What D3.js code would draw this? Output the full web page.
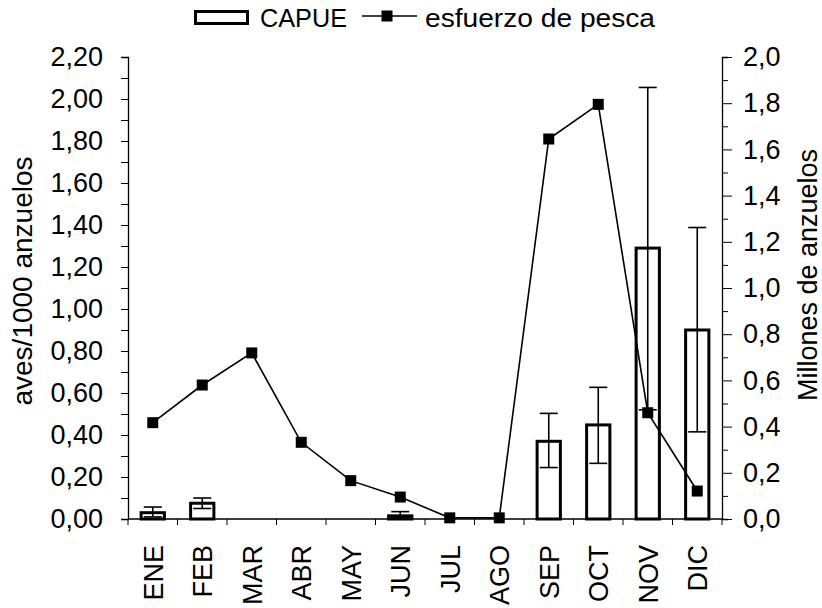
<!DOCTYPE html>
<html>
<head>
<meta charset="utf-8">
<script src="https://cdn.jsdelivr.net/npm/d3@7"></script>
<style>
  body { margin: 0; background: #fff; }
  svg text { font-family: "Liberation Sans", Arial, sans-serif; fill: #000; }
</style>
</head>
<body>
<div id="chart"></div>
<script>
const months = ['ENE', 'FEB', 'MAR', 'ABR', 'MAY', 'JUN', 'JUL', 'AGO', 'SEP', 'OCT', 'NOV', 'DIC'];
const capue = [0.03, 0.075, 0.0, 0.0, null, 0.015, null, null, 0.37, 0.448, 1.29, 0.90];
const capueLow = [0.01, 0.05, null, null, null, 0.005, null, null, 0.245, 0.265, 0.52, 0.415];
const capueHigh = [0.057, 0.10, null, null, null, 0.035, null, null, 0.503, 0.627, 2.055, 1.388];
const esfuerzo = [0.417, 0.58, 0.719, 0.332, 0.166, 0.095, 0.005, 0.005, 1.645, 1.795, 0.46, 0.121];
const leftTicks = [0, 0.2, 0.4, 0.6, 0.8, 1.0, 1.2, 1.4, 1.6, 1.8, 2.0, 2.2];
const rightTicks = [0, 0.2, 0.4, 0.6, 0.8, 1.0, 1.2, 1.4, 1.6, 1.8, 2.0];

const W = 822, H = 608;
const margin = { top: 57, right: 100, bottom: 89, left: 128 };
const width = W - margin.left - margin.right;
const height = H - margin.top - margin.bottom;
const FS = '27px';

const svg = d3.select('#chart').append('svg')
    .attr('width', W)
    .attr('height', H);
const g = svg.append('g')
    .attr('transform', 'translate(' + margin.left + ',' + margin.top + ')');

const x = d3.scaleBand().domain(months).range([0, width]).paddingInner(0).paddingOuter(0);
const yL = d3.scaleLinear().domain([0, 2.2]).range([height, 0]);
const yR = d3.scaleLinear().domain([0, 2.0]).range([height, 0]);
const fmt2 = d3.format('.2f');
const fmt1 = d3.format('.1f');
const comma = (f) => (d) => f(d).replace('.', ',');
const isMajor = (ticks) => (d) => ticks.some((t) => Math.abs(t - d) < 1e-6);

// bars
const barW = x.bandwidth() * 0.47;
const rows = months.map((m, i) => ({ m, v: capue[i], lo: capueLow[i], hi: capueHigh[i], e: esfuerzo[i] }));
const cx = (d) => x(d.m) + x.bandwidth() / 2;

g.selectAll('rect.bar')
    .data(rows.filter((d) => d.v !== null))
    .enter()
    .append('rect')
    .attr('class', 'bar')
    .attr('x', (d) => cx(d) - barW / 2)
    .attr('y', (d) => yL(d.v))
    .attr('width', barW)
    .attr('height', (d) => yL(0) - yL(d.v))
    .attr('fill', '#fff')
    .attr('stroke', (d) => (d.v === 0 ? '#ccc' : '#000'))
    .attr('stroke-width', (d) => (d.v === 0 ? 1 : 3));

// error bars
const errs = g.selectAll('g.err')
    .data(rows.filter((d) => d.hi !== null))
    .enter()
    .append('g')
    .attr('class', 'err')
    .attr('stroke', '#000')
    .attr('stroke-width', 1.6);
const capW = 9;
errs.append('line')
    .attr('x1', cx).attr('x2', cx)
    .attr('y1', (d) => yL(d.lo))
    .attr('y2', (d) => yL(d.hi));
['hi', 'lo'].forEach((k) => {
    errs.append('line')
        .attr('x1', (d) => cx(d) - capW)
        .attr('x2', (d) => cx(d) + capW)
        .attr('y1', (d) => yL(d[k]))
        .attr('y2', (d) => yL(d[k]));
});

// line
const line = d3.line().x(cx).y((d) => yR(d.e));
g.append('path')
    .datum(rows)
    .attr('d', line)
    .attr('fill', 'none')
    .attr('stroke', '#000')
    .attr('stroke-width', 1.6);
const mk = 11;
g.selectAll('rect.mk')
    .data(rows)
    .enter()
    .append('rect')
    .attr('class', 'mk')
    .attr('x', (d) => cx(d) - mk / 2)
    .attr('y', (d) => yR(d.e) - mk / 2)
    .attr('width', mk)
    .attr('height', mk)
    .attr('fill', '#000');

// axes
const leftAx = g.append('g')
    .call(d3.axisLeft(yL).tickValues(d3.range(0, 2.21, 0.1)).tickSize(7).tickPadding(18)
        .tickFormat((d) => (isMajor(leftTicks)(d) ? comma(fmt2)(d) : '')));

const rightAx = g.append('g')
    .attr('transform', 'translate(' + width + ',0)')
    .call(d3.axisRight(yR).tickValues(d3.range(0, 2.01, 0.1)).tickSize(6).tickPadding(15)
        .tickFormat((d) => (isMajor(rightTicks)(d) ? comma(fmt1)(d) : '')));
rightAx.selectAll('.tick').filter(isMajor(rightTicks))
    .select('line').attr('x2', 10);

[leftAx, rightAx].forEach((a) => {
    a.attr('font-size', null).attr('font-family', null);
    a.selectAll('text').style('font-size', FS);
    a.select('.domain').attr('stroke', '#000').attr('stroke-width', 1.3);
    a.selectAll('.tick line').attr('stroke', '#000').attr('stroke-width', 1);
});

const bottom = g.append('g').attr('transform', 'translate(0,' + height + ')');
bottom.append('line')
    .attr('x1', 0).attr('x2', width)
    .attr('stroke', '#000').attr('stroke-width', 1.3);
bottom.selectAll('line.tk')
    .data(d3.range(0, months.length + 1))
    .enter()
    .append('line')
    .attr('class', 'tk')
    .attr('x1', (i) => i * x.step()).attr('x2', (i) => i * x.step())
    .attr('y1', 0).attr('y2', 6)
    .attr('stroke', '#000');
bottom.selectAll('text')
    .data(months)
    .enter()
    .append('text')
    .attr('transform', (m) => 'translate(' + (x(m) + x.bandwidth() / 2 + 10) + ',26) rotate(-90)')
    .attr('text-anchor', 'end')
    .style('font-size', FS)
    .text((m) => m);

// axis titles
svg.append('text')
    .attr('transform', 'translate(32,281) rotate(-90)')
    .attr('text-anchor', 'middle')
    .style('font-size', '28px')
    .text('aves/1000 anzuelos');
svg.append('text')
    .attr('transform', 'translate(817,275) rotate(-90)')
    .attr('text-anchor', 'middle')
    .style('font-size', FS)
    .text('Millones de anzuelos');

// legend
const lg = svg.append('g');
lg.append('rect')
    .attr('x', 195.5).attr('y', 11.5).attr('width', 52).attr('height', 12)
    .attr('fill', '#fff').attr('stroke', '#000').attr('stroke-width', 3);
lg.append('text')
    .attr('x', 260).attr('y', 26.5)
    .attr('textLength', 87).attr('lengthAdjust', 'spacingAndGlyphs')
    .style('font-size', '25px').text('CAPUE');
lg.append('line')
    .attr('x1', 362).attr('x2', 417).attr('y1', 16).attr('y2', 16)
    .attr('stroke', '#000').attr('stroke-width', 1.6);
lg.append('rect')
    .attr('x', 381.5).attr('y', 10.5).attr('width', 11).attr('height', 11).attr('fill', '#000');
lg.append('text')
    .attr('x', 425).attr('y', 26.5)
    .attr('textLength', 230).attr('lengthAdjust', 'spacingAndGlyphs')
    .style('font-size', '25px').text('esfuerzo de pesca');
</script>
</body>
</html>
